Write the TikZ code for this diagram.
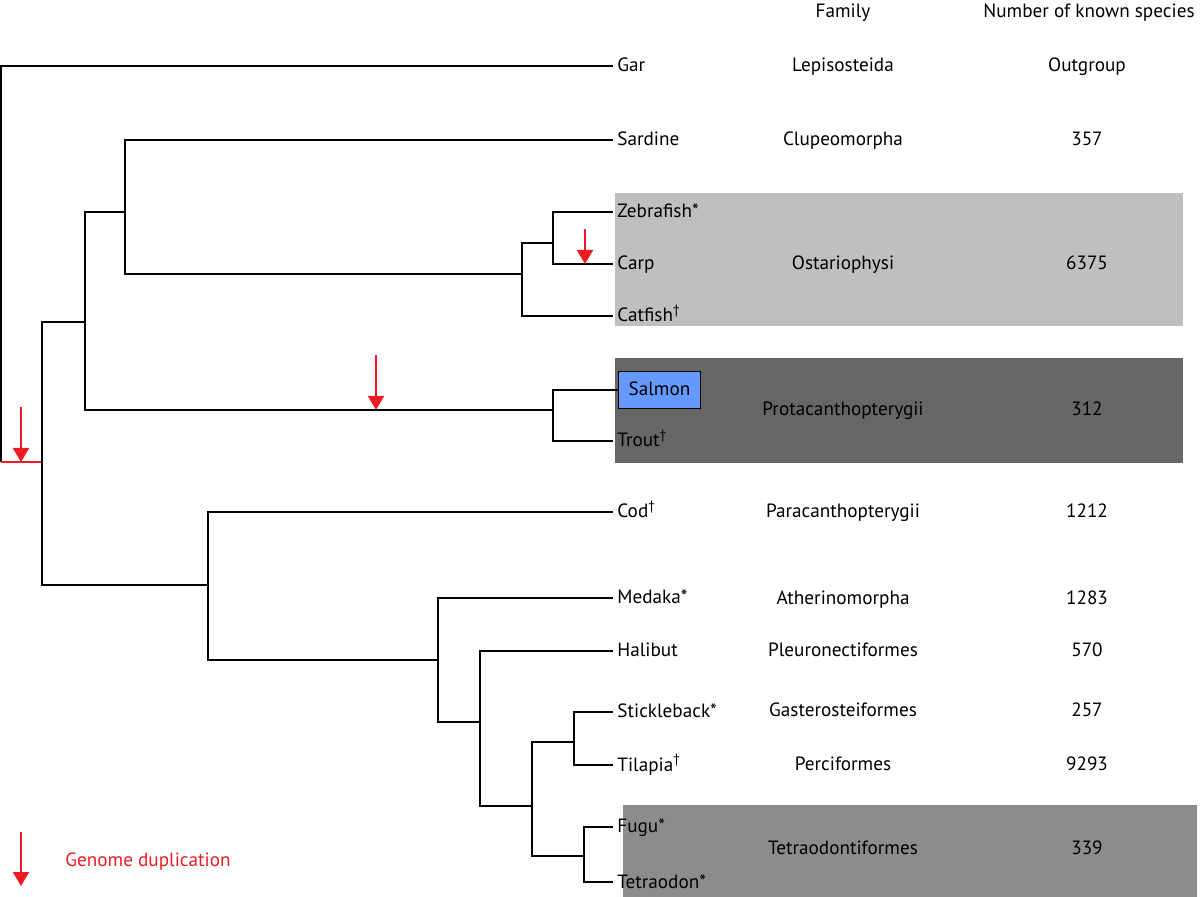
\documentclass[tikz,border=0pt]{standalone}
\usepackage{fontspec}
\setmainfont{PT Sans}
\usetikzlibrary{arrows.meta}

\definecolor{ostgray}{RGB}{191,191,191}
\definecolor{protgray}{RGB}{102,102,102}
\definecolor{tetgray}{RGB}{140,140,140}
\definecolor{salmonblue}{RGB}{102,153,255}
\definecolor{dupred}{RGB}{237,28,36}

\begin{document}
\begin{tikzpicture}[
        x=0.5pt, y=-0.5pt,
        every node/.style={font=\fontsize{9.6}{11}\selectfont,
            text height=1.6ex, text depth=.4ex},
        branch/.style={draw=black, line width=0.75pt},
        leaf/.style={anchor=west, inner xsep=2pt, inner ysep=1pt},
        fam/.style={inner sep=1pt},
        count/.style={inner sep=1pt},
        salmonbox/.style={
            anchor=west, draw=black, line width=0.6pt, fill=salmonblue,
            inner xsep=5pt, minimum height=18.5pt
        },
        dup/.style={draw=dupred, line width=0.75pt},
        duparrow/.style={draw=dupred, line width=1.1pt,
            -{Triangle[length=7pt, width=8pt]}, fill=dupred}
    ]
    \useasboundingbox (0,0) rectangle (1200,897);

    % shaded groups
    \fill [ostgray] (615,193) rectangle (1183,326);
    \fill [protgray] (615,358) rectangle (1183,463);
    \fill [tetgray] (623,805) rectangle (1197,897);

    % column headers
    \node [fam] (famhead) at (843,12) {Family};
    \node [count] (counthead) at (1089,12) {Number of known species};

    % leaves
    \node [leaf] (gar) at (613,66) {Gar};
    \node [leaf] (sardine) at (613,140) {Sardine};
    \node [leaf] (zebrafish) at (613,212) {Zebrafish*};
    \node [leaf] (carp) at (613,264) {Carp};
    \node [leaf] (catfish) at (613,316) {Catfish\textsuperscript{†}};
    \node [salmonbox] (salmon) at (618,390) {Salmon};
    \node [leaf] (trout) at (613,441) {Trout\textsuperscript{†}};
    \node [leaf] (cod) at (613,512) {Cod\textsuperscript{†}};
    \node [leaf] (medaka) at (613,598) {Medaka*};
    \node [leaf] (halibut) at (613,651) {Halibut};
    \node [leaf] (stickleback) at (613,712) {Stickleback*};
    \node [leaf] (tilapia) at (613,765) {Tilapia\textsuperscript{†}};
    \node [leaf] (fugu) at (613,827) {Fugu*};
    \node [leaf] (tetraodon) at (613,882) {Tetraodon*};

    % families
    \node [fam] (lepis) at (843,66) {Lepisosteida};
    \node [fam] (clupeo) at (843,140) {Clupeomorpha};
    \node [fam] (ostario) at (843,264) {Ostariophysi};
    \node [fam] (protac) at (843,410) {Protacanthopterygii};
    \node [fam] (parac) at (843,512) {Paracanthopterygii};
    \node [fam] (atherino) at (843,599) {Atherinomorpha};
    \node [fam] (pleuro) at (843,651) {Pleuronectiformes};
    \node [fam] (gastero) at (843,711) {Gasterosteiformes};
    \node [fam] (perci) at (843,764) {Perciformes};
    \node [fam] (tetrao) at (843,848) {Tetraodontiformes};

    % species counts
    \node [count] (nlepis) at (1087,66) {Outgroup};
    \node [count] (nclupeo) at (1087,140) {357};
    \node [count] (nostario) at (1087,264) {6375};
    \node [count] (nprotac) at (1087,410) {312};
    \node [count] (nparac) at (1087,512) {1212};
    \node [count] (natherino) at (1087,599) {1283};
    \node [count] (npleuro) at (1087,651) {570};
    \node [count] (ngastero) at (1087,711) {257};
    \node [count] (nperci) at (1087,764) {9293};
    \node [count] (ntetrao) at (1087,848) {339};

    % internal nodes of the tree
    \coordinate (root) at (1,462);
    \coordinate (teleo) at (42,462);
    \coordinate (clupeocephala) at (85,322);
    \coordinate (otoceph) at (125,212);
    \coordinate (ostnode) at (522,274);
    \coordinate (cypri) at (553,243);
    \coordinate (salmo) at (553,410);
    \coordinate (neotel) at (208,585);
    \coordinate (percomorph) at (438,660);
    \coordinate (halinode) at (480,722);
    \coordinate (upper) at (532,806);
    \coordinate (gastnode) at (574,742);
    \coordinate (tetnode) at (584,856);

    % branches
    \draw [branch] (root) |- (gar.west);
    \draw [dup] (root) -- (teleo);
    \draw [branch] (teleo) |- (clupeocephala);
    \draw [branch] (teleo) |- (neotel);
    \draw [branch] (clupeocephala) |- (otoceph);
    \draw [branch] (clupeocephala) |- (salmo);
    \draw [branch] (otoceph) |- (sardine.west);
    \draw [branch] (otoceph) |- (ostnode);
    \draw [branch] (ostnode) |- (cypri);
    \draw [branch] (ostnode) |- (catfish.west);
    \draw [branch] (cypri) |- (zebrafish.west);
    \draw [branch] (cypri) |- (carp.west);
    \draw [branch] (salmo) |- (salmon.west);
    \draw [branch] (salmo) |- (trout.west);
    \draw [branch] (neotel) |- (cod.west);
    \draw [branch] (neotel) |- (percomorph);
    \draw [branch] (percomorph) |- (medaka.west);
    \draw [branch] (percomorph) |- (halinode);
    \draw [branch] (halinode) |- (halibut.west);
    \draw [branch] (halinode) |- (upper);
    \draw [branch] (upper) |- (gastnode);
    \draw [branch] (upper) |- (tetnode);
    \draw [branch] (gastnode) |- (stickleback.west);
    \draw [branch] (gastnode) |- (tilapia.west);
    \draw [branch] (tetnode) |- (fugu.west);
    \draw [branch] (tetnode) |- (tetraodon.west);

    % genome duplications
    \draw [duparrow] (21,407) -- (21,462);
    \draw [duparrow] (376,355) -- (376,410);
    \draw [duparrow] (585,229) -- (585,264);

    % legend
    \draw [duparrow] (21,832) -- (21,886);
    \node [anchor=west, text=dupred, inner sep=0pt] (legend) at (65,860) {Genome duplication};

\end{tikzpicture}
\end{document}
